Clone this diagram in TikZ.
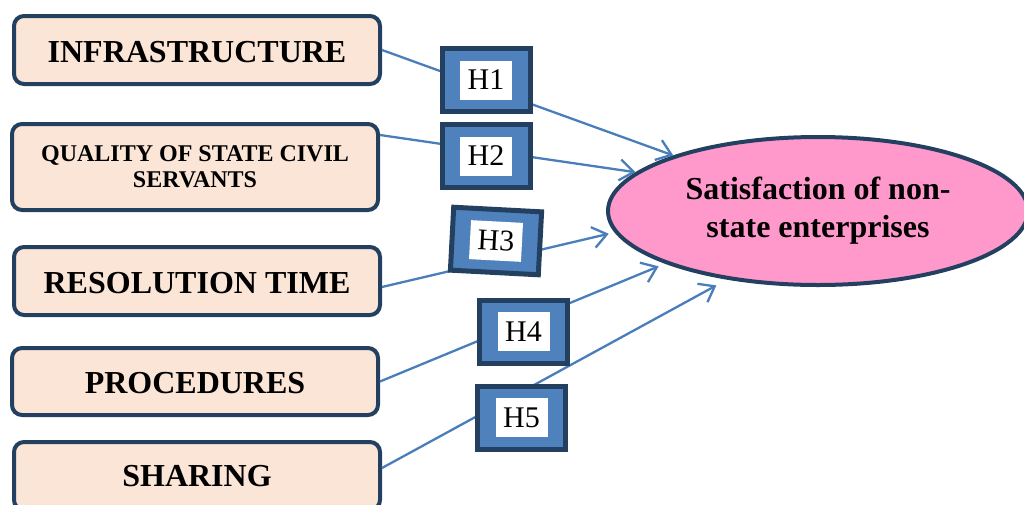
\documentclass[tikz,border=0pt]{standalone}
\usepackage{fontspec}
\setmainfont{Liberation Serif}
\usetikzlibrary{shapes.geometric,arrows.meta}
\definecolor{navy}{RGB}{36,64,97}
\definecolor{peach}{RGB}{251,229,214}
\definecolor{hblue}{RGB}{79,129,189}
\definecolor{linkblue}{RGB}{74,126,187}
\definecolor{pink}{RGB}{255,153,204}
\begin{document}
\begin{tikzpicture}[x=1pt,y=-1pt,>={Straight Barb[length=14pt,width=21pt]},
    factor/.style={draw=navy, line width=4pt, fill=peach, rounded corners=10pt,
        minimum width=366pt, minimum height=68pt, inner sep=0pt, align=center,
        font=\bfseries\fontsize{32}{38}\selectfont},
    hbox/.style={draw=navy, line width=5pt, fill=hblue, minimum width=88pt,
        minimum height=63pt, inner sep=0pt},
    hlabel/.style={fill=white, minimum width=52pt, minimum height=39pt, inner sep=0pt,
        font=\fontsize{30}{36}\selectfont},
    link/.style={linkblue, line width=2.3pt, ->}]
    \clip (0,0) rectangle (1024,504);

    % the factors on the left
    \node[factor, text height=25pt] (infra) at (197,50) {INFRASTRUCTURE};
    \node[factor, minimum height=86pt, font=\bfseries\fontsize{24}{26}\selectfont]
        (qual) at (195,167) {QUALITY OF STATE CIVIL\\SERVANTS};
    \node[factor, text height=25pt] (res) at (197,281) {RESOLUTION TIME};
    \node[factor, text height=24pt, minimum height=67pt] (proc) at (195,381.5) {PROCEDURES};
    \node[factor] (shar) at (197,476) {SHARING};

    % the outcome
    \node[ellipse, draw=navy, line width=4pt, fill=pink, minimum width=420pt,
        minimum height=148pt, inner sep=0pt, align=center,
        font=\bfseries\fontsize{32}{38}\selectfont]
        (sat) at (818,211) {Satisfaction of non-\\state enterprises};

    % the hypotheses
    \draw[link] (infra.east) -- (sat.159);
    \draw[link] ([yshift=-13pt]qual.north east) -- (sat.168);
    \draw[link, shorten >=6pt] ([yshift=-6pt]res.east) -- (sat.186);
    \draw[link, shorten >=7pt] (proc.east) -- (sat.199.5);
    \draw[link, shorten >=12pt] ([yshift=8pt]shar.east) -- (sat.217);

    % labels on the arrows
    \node[hbox] (h1) at (486,80) {};
    \node[hlabel] (h1t) at (h1) {H1};
    \node[hbox] (h2) at (486,156) {};
    \node[hlabel] (h2t) at (h2) {H2};
    \node[hbox, rotate=-3] (h3) at (496,241) {};
    \node[hlabel, rotate=-3] (h3t) at (h3) {H3};
    \node[hbox] (h4) at (523.5,331.5) {};
    \node[hlabel] (h4t) at (h4) {H4};
    \node[hbox] (h5) at (521.5,417.5) {};
    \node[hlabel] (h5t) at (h5) {H5};
\end{tikzpicture}
\end{document}
